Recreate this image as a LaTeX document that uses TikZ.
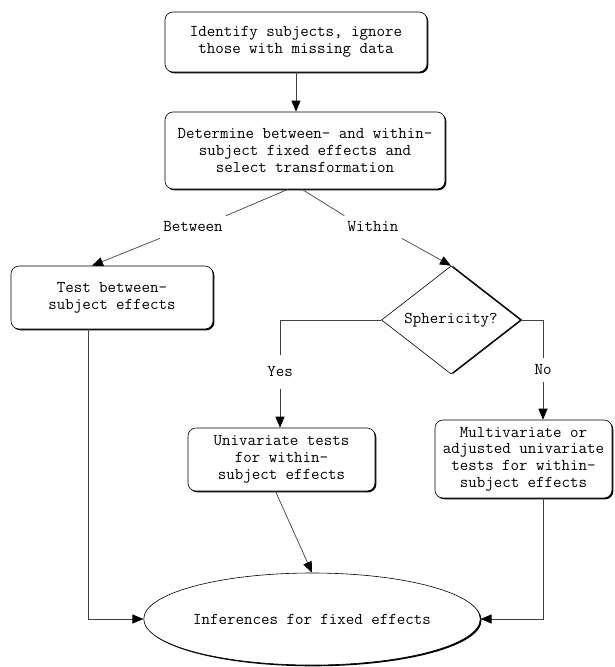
\documentclass[tikz,border=0pt]{standalone}
\usetikzlibrary{arrows.meta,shapes.geometric,shadows}
\begin{document}
\begin{tikzpicture}[x=1pt,y=-1pt,
  every node/.style={font=\ttfamily\fontsize{16.5}{16.7}\selectfont, align=center},
  shad/.style={drop shadow={shadow xshift=1.3pt, shadow yshift=-1.3pt, fill=black, opacity=1}},
  proc/.style={draw=black, fill=white, rounded corners=8pt, line width=0.6pt, inner sep=0pt, shad},
  lbl/.style={inner xsep=3pt, inner ysep=6pt},
  conn/.style={draw=black!75, line width=0.7pt},
  arr/.style={conn, -{Triangle[length=11pt,width=9pt,black]}}
]
\useasboundingbox (0,0) rectangle (615,667);

\node[proc, minimum width=262pt, minimum height=60pt] (id) at (296,42)
  {Identify subjects, ignore\\those with missing data};
\node[proc, minimum width=280pt, minimum height=77pt] (det) at (305,150.5)
  {Determine between- and within-\\subject fixed effects and\\select transformation};
\node[proc, minimum width=202pt, minimum height=63pt] (test) at (112,297.5)
  {Test between-\\subject effects};
\node[draw=black, fill=white, diamond, line width=0.6pt, aspect=1.3, inner sep=0pt,
  minimum width=139pt, minimum height=108pt,
  drop shadow={shadow xshift=2pt, shadow yshift=0pt, fill=black, opacity=1}] (sph) at (451,320) {Sphericity?};
\node[proc, minimum width=187pt, minimum height=63pt] (uni) at (281.5,459.5)
  {Univariate tests\\for within-\\subject effects};
\node[proc, minimum width=177pt, minimum height=78pt] (multi) at (523.5,459)
  {Multivariate or\\adjusted univariate\\tests for within-\\subject effects};
\node[draw=black, fill=white, ellipse, line width=0.6pt, inner sep=0pt,
  minimum width=310pt, minimum height=92pt, shad] (ell) at (312,619)
  {Inferences for fixed effects};

\node[lbl] (lbB) at (193,227) {Between};
\node[lbl] (lbW) at (373,227) {Within};
\node[lbl, inner ysep=12pt] (lbY) at (280,372) {Yes};
\node[lbl, inner ysep=7pt] (lbN) at (543,370) {No};

\draw[arr] (id.south) -- (id.south |- det.north);
\draw[conn] ([xshift=-17pt]det.south) -- (lbB.north east);
\draw[arr] (lbB.south west) -- ([xshift=-20pt]test.north);
\draw[conn] ([xshift=-3pt]det.south) -- (lbW.north west);
\draw[arr] (lbW.south east) -- (sph.north);
\draw[conn] (sph.west) -| (lbY.north);
\draw[arr] (lbY.south) -- (lbY.south |- uni.north);
\draw[conn] (sph.east) -| (lbN.north);
\draw[arr] (lbN.south) -- (lbN.south |- multi.north);
\draw[arr] ([xshift=-24pt]test.south) |- (ell.west);
\draw[arr] ([xshift=-6pt]uni.south) -- (ell.north);
\draw[arr] (multi.south -| lbN) |- (ell.east);
\end{tikzpicture}
\end{document}
